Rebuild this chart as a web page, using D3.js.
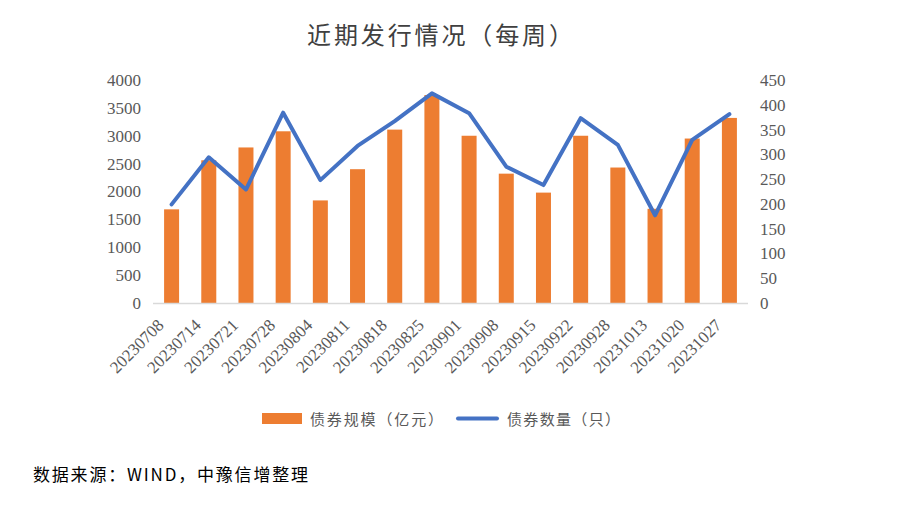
<!DOCTYPE html>
<html><head><meta charset="utf-8">
<script src="https://cdn.jsdelivr.net/npm/d3@7/dist/d3.min.js"></script>
<style>body{margin:0;background:#fff}svg{display:block}</style>
</head><body>
<svg id="c" width="914" height="507"></svg>
<script>
const categories = ["20230708","20230714","20230721","20230728","20230804","20230811","20230818","20230825","20230901","20230908","20230915","20230922","20230928","20231013","20231020","20231027"];
const scaleValues = [1680,2560,2790,3080,1840,2400,3110,3730,3000,2320,1980,3000,2430,1690,2950,3320];
const countValues = [199,294,229,384,248,317,367,423,383,275,238,373,319,177,329,381];
const leftTicks = [0,500,1000,1500,2000,2500,3000,3500,4000];
const rightTicks = [0,50,100,150,200,250,300,350,400,450];

const svg = d3.select("#c");
const L = 153, R = 748, T = 80, B = 303;
const x = d3.scaleBand().domain(categories).range([L, R]).paddingInner(0.6).paddingOuter(0.3);
const yL = d3.scaleLinear().domain([0,4000]).range([B, T]);
const yR = d3.scaleLinear().domain([0,450]).range([B, T]);
const numFont = "'Liberation Serif','DejaVu Serif',serif";
const cjk = "'Noto Sans CJK SC','Noto Sans',sans-serif";

// title
svg.append("text").attr("x", 307).attr("y", 44)
  .attr("font-family", cjk).attr("font-size", 24).attr("fill","#404040")
  .attr("textLength", 266).attr("lengthAdjust","spacing").text("近期发行情况（每周）");

// bars
svg.append("g").selectAll("rect").data(categories).join("rect")
  .attr("x", d => x(d) + (x.bandwidth()-15)/2)
  .attr("width", 15)
  .attr("y", (d,i) => yL(scaleValues[i]))
  .attr("height", (d,i) => B - yL(scaleValues[i]))
  .attr("fill", "#ED7D31");

// baseline
svg.append("line").attr("x1", L).attr("x2", R).attr("y1", B+0.5).attr("y2", B+0.5)
  .attr("stroke", "#D9D9D9").attr("stroke-width", 1.5);

// left axis
const la = svg.append("g").attr("transform", `translate(${L-12},0)`)
  .call(d3.axisLeft(yL).tickValues(leftTicks).tickFormat(d3.format("d")).tickSize(0).tickPadding(0));
la.select(".domain").remove();
la.selectAll("text").attr("font-family", numFont).attr("font-size", 17).attr("fill","#595959");

// right axis
const ra = svg.append("g").attr("transform", `translate(${R+12},0)`)
  .call(d3.axisRight(yR).tickValues(rightTicks).tickFormat(d3.format("d")).tickSize(0).tickPadding(0));
ra.select(".domain").remove();
ra.selectAll("text").attr("font-family", numFont).attr("font-size", 17).attr("fill","#595959");

// x labels
svg.append("g").selectAll("text").data(categories).join("text")
  .attr("transform", d => `translate(${x(d)+x.bandwidth()/2-11},${B+19}) rotate(-45)`)
  .attr("text-anchor","end").attr("dy","0.35em")
  .attr("font-family", numFont).attr("font-size", 17).attr("fill","#595959")
  .text(d => d);

// line
const line = d3.line().x((d,i) => x(categories[i]) + x.bandwidth()/2).y(d => yR(d));
svg.append("path").datum(countValues).attr("d", line)
  .attr("fill","none").attr("stroke","#4472C4").attr("stroke-width",4)
  .attr("stroke-linejoin","round").attr("stroke-linecap","round");

// legend
const lg = svg.append("g");
lg.append("rect").attr("x",262).attr("y",413).attr("width",40).attr("height",11).attr("fill","#ED7D31");
lg.append("text").attr("x",310).attr("y",420).attr("dy","0.35em")
  .attr("font-family", cjk).attr("font-size",15).attr("fill","#595959")
  .attr("textLength",133).attr("lengthAdjust","spacing")
  .text("债券规模（亿元）");
lg.append("line").attr("x1",458).attr("x2",497).attr("y1",418.5).attr("y2",418.5)
  .attr("stroke","#4472C4").attr("stroke-width",4).attr("stroke-linecap","round");
lg.append("text").attr("x",507).attr("y",420).attr("dy","0.35em")
  .attr("font-family", cjk).attr("font-size",15).attr("fill","#595959")
  .attr("textLength",113).attr("lengthAdjust","spacing")
  .text("债券数量（只）");

// source
svg.append("text").attr("x",33).attr("y",481)
  .attr("font-family", cjk).attr("font-size",17).attr("fill","#000")
  .attr("textLength",275).attr("lengthAdjust","spacing")
  .text("数据来源：WIND，中豫信增整理");
</script>
</body></html>
